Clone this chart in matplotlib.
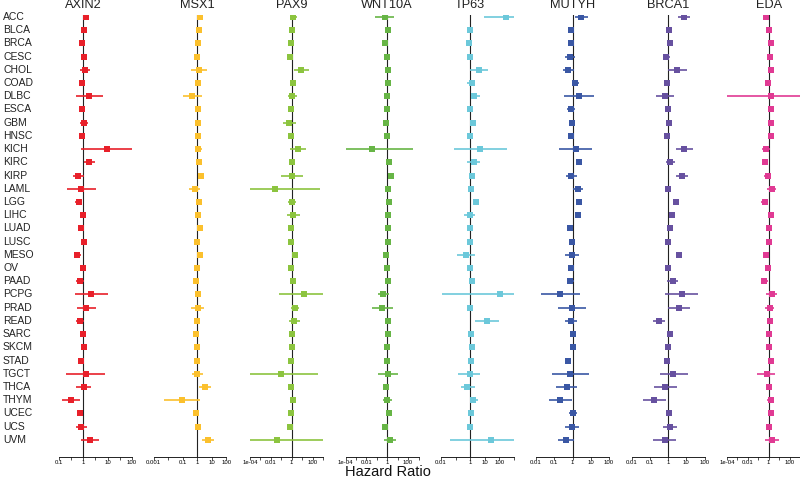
import numpy as np
import matplotlib
matplotlib.use("Agg")
import matplotlib.pyplot as plt
import matplotlib.transforms as mtransforms

plt.rcParams['font.family'] = ['Liberation Sans', 'DejaVu Sans']

cancers = ["ACC", "BLCA", "BRCA", "CESC", "CHOL", "COAD", "DLBC", "ESCA", "GBM",
           "HNSC", "KICH", "KIRC", "KIRP", "LAML", "LGG", "LIHC", "LUAD", "LUSC",
           "MESO", "OV", "PAAD", "PCPG", "PRAD", "READ", "SARC", "SKCM", "STAD",
           "TGCT", "THCA", "THYM", "UCEC", "UCS", "UVM"]

genes = ["AXIN2", "MSX1", "PAX9", "WNT10A", "TP63", "MUTYH", "BRCA1", "EDA"]
colors = ["#E8202A", "#FBC02D", "#8CC43F", "#67B546", "#6CC8DA", "#3A57A4", "#6751A0", "#E03A93"]

# hazard ratio, lower and upper 95% CI
axin2_hr = [1.3, 1.03, 0.88, 1.03, 1.2, 0.88, 1.78, 0.9, 1.07, 0.9, 9.1, 1.78, 0.62, 0.8, 0.64, 0.97, 0.83,
            1.1, 0.56, 0.97, 0.73, 2.1, 1.33, 0.75, 1.0, 1.1, 0.83, 1.25, 1.03, 0.3, 0.75, 0.8, 1.9]
axin2_lo = [1.0, 0.9, 0.75, 0.85, 0.73, 0.75, 0.5, 0.75, 0.73, 0.75, 0.83, 1.1, 0.36, 0.22, 0.45, 0.82, 0.7,
            0.95, 0.42, 0.85, 0.5, 0.45, 0.56, 0.5, 0.85, 0.95, 0.72, 0.2, 0.5, 0.13, 0.65, 0.51, 0.8]
axin2_hi = [1.75, 1.15, 1.05, 1.25, 1.96, 1.05, 6.4, 1.1, 1.6, 1.1, 96, 2.9, 1.1, 3.2, 0.9, 1.15, 1.0,
            1.3, 0.77, 1.1, 1.1, 10, 3.2, 1.1, 1.2, 1.25, 0.95, 7.7, 2.15, 0.73, 0.9, 1.47, 4.6]

msx1_hr = [1.6, 1.23, 1.05, 0.95, 1.3, 1.1, 0.43, 1.1, 1.05, 1.17, 1.17, 1.37, 1.78, 0.66, 1.37, 1.17, 1.44,
           0.95, 1.5, 0.9, 0.77, 1.1, 1.05, 0.9, 0.85, 1.0, 0.9, 0.95, 3.2, 0.09, 0.81, 1.05, 5.6]
msx1_lo = [1.1, 1.0, 0.9, 0.8, 0.35, 0.9, 0.1, 0.9, 0.85, 0.95, 0.66, 1.1, 1.2, 0.26, 1.1, 0.95, 1.2,
           0.8, 1.2, 0.75, 0.6, 0.8, 0.39, 0.7, 0.7, 0.8, 0.75, 0.43, 1.37, 0.005, 0.65, 0.85, 2.2]
msx1_hi = [2.3, 1.5, 1.2, 1.15, 4.3, 1.3, 2.0, 1.3, 1.25, 1.35, 2.1, 1.7, 2.4, 1.5, 1.6, 1.4, 1.7,
           1.1, 1.9, 1.1, 0.95, 1.5, 2.8, 1.15, 1.05, 1.2, 1.1, 2.6, 9.0, 1.6, 1.0, 1.3, 13.6]

pax9_hr = [1.45, 1.08, 0.93, 0.69, 8.6, 1.35, 1.16, 0.93, 0.51, 0.86, 4.1, 1.08, 1.08, 0.0226, 1.0, 1.25, 0.93,
           0.86, 2.1, 0.8, 1.35, 15.6, 1.95, 1.8, 1.08, 1.16, 0.93, 0.086, 0.86, 1.25, 0.86, 0.74, 0.041]
pax9_lo = [0.64, 0.85, 0.75, 0.55, 1.56, 1.1, 0.48, 0.75, 0.14, 0.7, 0.74, 0.85, 0.1, 1e-4, 0.48, 0.33, 0.75,
           0.7, 1.6, 0.65, 1.05, 0.06, 0.86, 0.6, 0.85, 0.9, 0.75, 1e-4, 0.65, 0.9, 0.7, 0.58, 1e-4]
pax9_hi = [3.3, 1.3, 1.15, 0.87, 47, 1.65, 3.3, 1.15, 2.4, 1.05, 22, 1.35, 12.5, 513, 2.4, 6.0, 1.15,
           1.05, 2.8, 1.0, 1.7, 1000, 5.5, 6.0, 1.35, 1.5, 1.15, 330, 1.1, 1.75, 1.05, 0.95, 1000]

wnt10a_hr = [0.55, 1.08, 0.6, 0.86, 1.25, 1.25, 0.86, 0.86, 0.8, 0.93, 0.038, 1.35, 2.26, 1.25, 1.56, 1.08, 1.08,
             1.16, 0.8, 1.0, 1.25, 0.41, 0.33, 1.08, 1.16, 0.86, 0.86, 1.25, 0.74, 1.0, 1.35, 0.64, 1.8]
wnt10a_lo = [0.069, 0.9, 0.5, 0.7, 1.0, 1.0, 0.65, 0.7, 0.65, 0.75, 1e-4, 1.1, 1.8, 0.9, 1.3, 0.8, 0.9,
             0.95, 0.65, 0.85, 1.0, 0.125, 0.038, 0.85, 0.95, 0.7, 0.7, 0.145, 0.6, 0.41, 1.1, 0.5, 0.48]
wnt10a_hi = [4.4, 1.3, 0.75, 1.05, 1.5, 1.5, 1.15, 1.05, 0.98, 1.1, 300, 1.6, 2.8, 1.7, 1.9, 1.45, 1.3,
             1.4, 1.0, 1.2, 1.5, 1.35, 3.3, 1.35, 1.4, 1.05, 1.05, 11.6, 0.92, 2.8, 1.6, 0.8, 6.9]

tp63_hr = [288, 1.0, 0.81, 1.0, 3.75, 1.24, 1.89, 1.0, 1.53, 1.0, 4.9, 1.7, 1.24, 1.05, 2.46, 0.9, 1.0,
           0.95, 0.48, 0.9, 1.37, 111, 1.0, 14, 1.17, 1.24, 1.05, 0.9, 0.65, 1.61, 1.17, 0.9, 26.6]
tp63_lo = [8.3, 0.85, 0.7, 0.85, 1.0, 0.65, 1.1, 0.85, 1.25, 0.85, 0.079, 0.65, 1.0, 0.8, 2.0, 0.35, 0.85,
           0.8, 0.13, 0.75, 1.15, 0.0117, 0.8, 2.1, 1.0, 1.05, 0.9, 0.157, 0.24, 0.9, 1.0, 0.75, 0.042]
tp63_hi = [1000, 1.2, 0.95, 1.2, 15.6, 2.3, 4.4, 1.2, 1.85, 1.2, 320, 4.9, 1.5, 1.35, 3.0, 2.3, 1.2,
           1.1, 2.1, 1.1, 1.65, 1000, 1.25, 94, 1.4, 1.45, 1.25, 4.9, 2.1, 3.2, 1.4, 1.1, 1000]

mutyh_hr = [3.1, 0.81, 0.78, 0.71, 0.6, 1.46, 2.4, 0.81, 0.96, 0.81, 1.53, 2.3, 0.84, 1.96, 2.4, 2.05, 0.74,
            0.92, 0.92, 0.81, 0.71, 0.22, 0.96, 0.78, 1.09, 1.0, 0.6, 0.74, 0.47, 0.22, 1.09, 0.92, 0.45]
mutyh_lo = [1.46, 0.65, 0.62, 0.41, 0.32, 0.96, 0.36, 0.49, 0.63, 0.68, 0.19, 1.75, 0.45, 1.09, 1.9, 1.6, 0.6,
            0.78, 0.41, 0.68, 0.49, 0.02, 0.16, 0.38, 0.85, 0.8, 0.48, 0.08, 0.12, 0.054, 0.68, 0.38, 0.17]
mutyh_hi = [6.7, 1.0, 0.98, 1.29, 1.18, 2.3, 16, 1.4, 1.46, 0.98, 12, 3.0, 1.66, 3.9, 3.0, 2.6, 0.9,
            1.1, 2.2, 0.97, 1.24, 2.6, 5.6, 1.66, 1.4, 1.25, 0.75, 7.6, 1.8, 0.96, 1.66, 2.2, 1.18]

brca1_hr = [7.7, 1.19, 1.24, 0.81, 3.3, 0.84, 0.68, 1.0, 1.19, 0.92, 7.7, 1.35, 5.7, 1.0, 2.9, 1.74, 1.29,
            0.96, 4.1, 1.04, 1.8, 5.5, 4.25, 0.33, 1.24, 1.04, 0.88, 1.98, 0.68, 0.18, 1.19, 1.24, 0.68]
brca1_lo = [3.6, 1.0, 1.05, 0.5, 1.0, 0.65, 0.21, 0.8, 0.95, 0.8, 2.7, 0.77, 2.7, 0.8, 2.4, 1.4, 1.05,
            0.8, 3.0, 0.85, 0.92, 0.68, 1.04, 0.15, 1.0, 0.85, 0.72, 0.36, 0.167, 0.043, 0.95, 0.5, 0.15]
brca1_hi = [16.7, 1.4, 1.45, 1.29, 10.4, 1.05, 2.15, 1.25, 1.5, 1.05, 24, 2.3, 11.8, 1.2, 3.5, 2.1, 1.55,
            1.15, 5.7, 1.25, 3.6, 46, 16, 0.68, 1.55, 1.3, 1.05, 11.8, 3.0, 0.81, 1.45, 3.0, 2.9]

eda_hr = [0.6, 1.16, 1.8, 1.45, 1.68, 0.93, 1.68, 1.68, 1.68, 1.8, 0.51, 0.48, 0.8, 2.26, 0.41, 1.56, 1.08,
          1.16, 0.6, 0.93, 0.38, 1.95, 1.35, 1.25, 1.08, 1.08, 1.56, 0.64, 1.16, 1.56, 1.56, 1.16, 2.1]
eda_lo = [0.45, 0.95, 1.45, 1.15, 0.86, 0.75, 1e-4, 1.35, 1.25, 1.45, 0.21, 0.38, 0.38, 0.64, 0.18, 1.25, 0.9,
          0.95, 0.48, 0.75, 0.17, 0.51, 0.44, 1.0, 0.9, 0.9, 1.25, 0.08, 0.95, 0.69, 1.25, 0.95, 0.44]
eda_hi = [0.8, 1.4, 2.2, 1.8, 3.5, 1.15, 1000, 2.1, 2.2, 2.2, 1.45, 0.6, 1.68, 5.5, 0.8, 1.9, 1.3,
          1.4, 0.75, 1.15, 0.8, 5.9, 3.5, 1.55, 1.3, 1.3, 1.9, 4.1, 1.4, 3.5, 1.9, 1.4, 10]

hr_all = [axin2_hr, msx1_hr, pax9_hr, wnt10a_hr, tp63_hr, mutyh_hr, brca1_hr, eda_hr]
lo_all = [axin2_lo, msx1_lo, pax9_lo, wnt10a_lo, tp63_lo, mutyh_lo, brca1_lo, eda_lo]
hi_all = [axin2_hi, msx1_hi, pax9_hi, wnt10a_hi, tp63_hi, mutyh_hi, brca1_hi, eda_hi]

# axis range (log10 exponents) and labelled ticks for each panel
xlims = [(-1, 2), (-3, 2), (-4, 3), (-4, 3), (-2, 3), (-2, 2), (-2, 2), (-4, 3)]
tick_labels = [
    {0.1: "0.1", 1: "1", 10: "10", 100: "100"},
    {0.001: "0.001", 0.1: "0.1", 1: "1", 10: "10", 100: "100"},
    {1e-4: "1e-04", 0.01: "0.01", 1: "1", 100: "100"},
    {1e-4: "1e-04", 0.01: "0.01", 1: "1", 100: "100"},
    {0.01: "0.01", 1: "1", 10: "10", 100: "100"},
    {0.01: "0.01", 0.1: "0.1", 1: "1", 10: "10", 100: "100"},
    {0.01: "0.01", 0.1: "0.1", 1: "1", 10: "10", 100: "100"},
    {1e-4: "1e-04", 0.01: "0.01", 1: "1", 100: "100"},
]

fig = plt.figure(figsize=(8, 4.8), dpi=100)

lefts = [59, 153.5, 250, 345.5, 441, 536, 631.5, 727]
width = 73
bottom = (480 - 457) / 480
height = 442 / 480
n = len(cancers)
ypos = np.arange(n)

axes = []
for k, gene in enumerate(genes):
    ax = fig.add_axes([lefts[k] / 800, bottom, width / 800, height])
    axes.append(ax)
    hr = np.array(hr_all[k])
    lo = np.array(lo_all[k])
    hi = np.array(hi_all[k])
    ax.set_xscale('log')
    e0, e1 = xlims[k]
    ax.set_xlim(10.0 ** e0, 10.0 ** e1)
    ax.set_ylim(n - 1 + 1.3, -0.15)
    ax.axvline(1, color='#222222', lw=0.8, zorder=1)
    ax.errorbar(hr, ypos, xerr=[hr - lo, hi - hr], fmt='s', color=colors[k],
                ms=4.8, mew=0, elinewidth=1.2, capsize=1.0, capthick=1.0, zorder=3)
    for s in ['top', 'right', 'left']:
        ax.spines[s].set_visible(False)
    ax.spines['bottom'].set_linewidth(0.6)
    ax.set_yticks([])
    if e1 - e0 <= 3:
        ticks = 10.0 ** np.arange(e0, e1 + 0.01, 0.5)
    else:
        ticks = 10.0 ** np.arange(e0, e1 + 0.01, 1.0)
    labs = []
    for t in ticks:
        lab = ""
        for key, val in tick_labels[k].items():
            if abs(np.log10(t) - np.log10(key)) < 1e-6:
                lab = val
        labs.append(lab)
    ax.set_xticks(ticks)
    ax.set_xticklabels(labs)
    ax.minorticks_off()
    ax.tick_params(axis='x', length=2.0, width=0.6, labelsize=4.3, pad=0.4, color='#333333')
    ax.text(1, 1.008, gene, transform=mtransforms.blended_transform_factory(ax.transData, ax.transAxes),
            ha='center', va='bottom', fontsize=9.2, color='#222222')
    ax.set_facecolor('none')

trans = mtransforms.blended_transform_factory(fig.transFigure, axes[0].transData)
for i, c in enumerate(cancers):
    axes[0].text(3 / 800, i, c, transform=trans, ha='left', va='center',
                 fontsize=7.5, color='#222222', clip_on=False)

fig.text(388 / 800, 0.6 / 480, "Hazard Ratio", ha='center', va='bottom', fontsize=10.5, color='#111111')

fig.savefig("out.png", dpi=100)
